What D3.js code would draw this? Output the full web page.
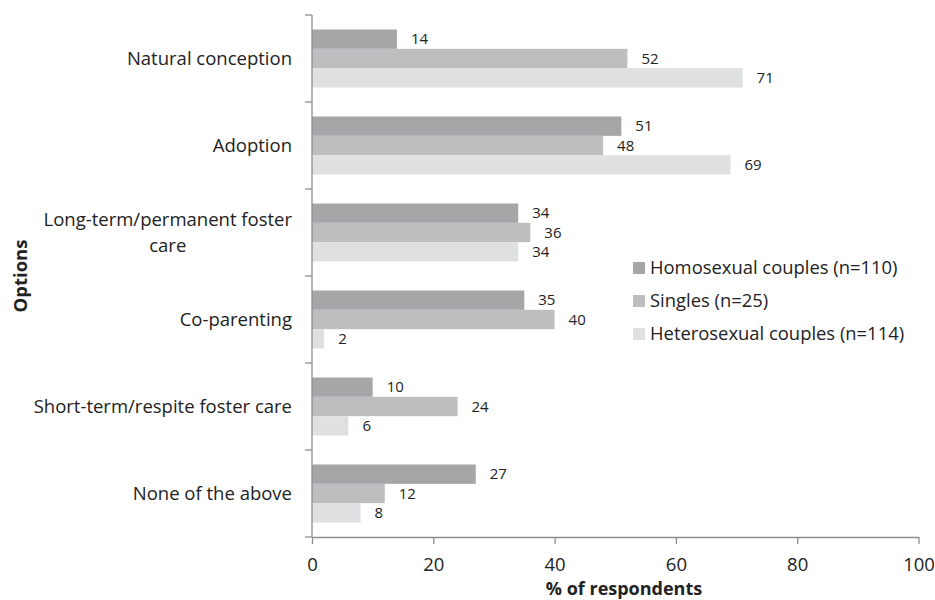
<!DOCTYPE html>
<html>
<head>
<meta charset="utf-8">
<script src="https://cdn.jsdelivr.net/npm/d3@7"></script>
<style>
  html, body { margin: 0; padding: 0; background: #fff; }
  svg { display: block; font-family: "Open Sans", "Liberation Sans", sans-serif; }
</style>
</head>
<body>
<svg id="chart" width="935" height="600"></svg>
<script>
// Categories (top to bottom) and the share of respondents for each group
const categories = [
  "Natural conception",
  "Adoption",
  "Long-term/permanent foster care",
  "Co-parenting",
  "Short-term/respite foster care",
  "None of the above"
];
const categoryLines = [
  ["Natural conception"],
  ["Adoption"],
  ["Long-term/permanent foster", "care"],
  ["Co-parenting"],
  ["Short-term/respite foster care"],
  ["None of the above"]
];
const seriesNames = ["Homosexual couples (n=110)", "Singles (n=25)", "Heterosexual couples (n=114)"];
const homosexualCouples = [14, 51, 34, 35, 10, 27];
const singles = [52, 48, 36, 40, 24, 12];
const heterosexualCouples = [71, 69, 34, 2, 6, 8];
const seriesValues = [homosexualCouples, singles, heterosexualCouples];
const xTicks = [0, 20, 40, 60, 80, 100];
const seriesColors = ["#a6a6a9", "#bdbec0", "#dfe0e1"];

const svg = d3.select("#chart");
const textColor = "#222";
const axisColor = "#8e8e8e";
const labelSize = 18.5;

const plot = { left: 312, right: 918.5, top: 15, bottom: 537 };

const x = d3.scaleLinear().domain([0, 100]).range([plot.left, plot.right]);
const y0 = d3.scaleBand().domain(categories).range([plot.top, plot.bottom]).padding(0);
const y1 = d3.scaleBand().domain(seriesNames).range([0, y0.bandwidth()])
  .paddingInner(0).paddingOuter(0.75);

// Bars
const rows = categories.map((c, i) => ({
  category: c,
  values: seriesNames.map((s, j) => ({ series: s, value: seriesValues[j][i], color: seriesColors[j] }))
}));

const groups = svg.append("g").selectAll("g").data(rows).join("g")
  .attr("transform", d => `translate(0,${y0(d.category)})`);

groups.selectAll("rect").data(d => d.values).join("rect")
  .attr("x", x(0))
  .attr("y", d => y1(d.series))
  .attr("width", d => x(d.value) - x(0))
  .attr("height", y1.bandwidth())
  .attr("fill", d => d.color);

// Value labels
groups.selectAll("text").data(d => d.values).join("text")
  .attr("x", d => x(d.value) + 14)
  .attr("y", d => y1(d.series) + y1.bandwidth() / 2)
  .attr("dy", "0.35em")
  .attr("font-size", 15)
  .attr("fill", textColor)
  .text(d => d.value);

// Y axis with tick marks between categories
const yAxis = svg.append("g");
yAxis.append("line")
  .attr("x1", plot.left).attr("x2", plot.left)
  .attr("y1", plot.top).attr("y2", plot.bottom)
  .attr("stroke", axisColor).attr("stroke-width", 1.3);
const boundaries = categories.map(c => y0(c)).concat([plot.bottom]);
yAxis.selectAll("line.tick").data(boundaries).join("line")
  .attr("class", "tick")
  .attr("x1", plot.left - 7).attr("x2", plot.left)
  .attr("y1", d => d).attr("y2", d => d)
  .attr("stroke", axisColor).attr("stroke-width", 1.3);

// Category labels
categories.forEach((c, i) => {
  const lines = categoryLines[i];
  const cy = y0(c) + y0.bandwidth() / 2;
  const lh = 26;
  const t = svg.append("text")
    .attr("font-size", labelSize)
    .attr("fill", textColor)
    .attr("text-anchor", "end");
  if (lines.length === 1) {
    t.append("tspan").attr("x", 292).attr("y", cy).attr("dy", "0.35em").text(lines[0]);
  } else {
    // wrapped label: lines centred on the widest line, which is right-aligned
    t.attr("text-anchor", "middle");
    lines.forEach((ln, k) => {
      t.append("tspan").attr("class", "wl").attr("y", cy + (k - (lines.length - 1) / 2) * lh)
        .attr("dy", "0.35em").text(ln);
    });
    const tmp = svg.append("text").attr("font-size", labelSize).text(lines[0]);
    const w = tmp.node().getComputedTextLength();
    tmp.remove();
    t.selectAll("tspan.wl").attr("x", 292 - w / 2);
  }
});

// X axis
const xAxis = svg.append("g").attr("transform", `translate(0,${plot.bottom})`)
  .call(d3.axisBottom(x).tickValues(xTicks).tickSize(7).tickSizeOuter(0).tickPadding(14));
xAxis.select(".domain").attr("stroke", axisColor).attr("stroke-width", 1.3);
xAxis.selectAll(".tick line").attr("stroke", axisColor).attr("stroke-width", 1.3);
xAxis.selectAll(".tick text")
  .attr("font-family", "Open Sans, sans-serif")
  .attr("font-size", 18.5)
  .attr("fill", textColor);

// Axis titles
svg.append("text")
  .attr("x", 624).attr("y", 595)
  .attr("text-anchor", "middle")
  .attr("font-size", 18).attr("font-weight", "bold")
  .attr("fill", textColor)
  .text("% of respondents");

svg.append("text")
  .attr("transform", "translate(27,276) rotate(-90)")
  .attr("text-anchor", "middle")
  .attr("font-size", 18.5).attr("font-weight", "bold")
  .attr("fill", textColor)
  .text("Options");

// Legend
const legend = svg.append("g").selectAll("g").data(seriesNames).join("g")
  .attr("transform", (d, i) => `translate(633,${268 + i * 33})`);
legend.append("rect")
  .attr("x", 0).attr("y", -6).attr("width", 12).attr("height", 12)
  .attr("fill", (d, i) => seriesColors[i]);
legend.append("text")
  .attr("x", 17).attr("y", 0).attr("dy", "0.35em")
  .attr("font-size", 18.4)
  .attr("fill", textColor)
  .text(d => d);
</script>
</body>
</html>
